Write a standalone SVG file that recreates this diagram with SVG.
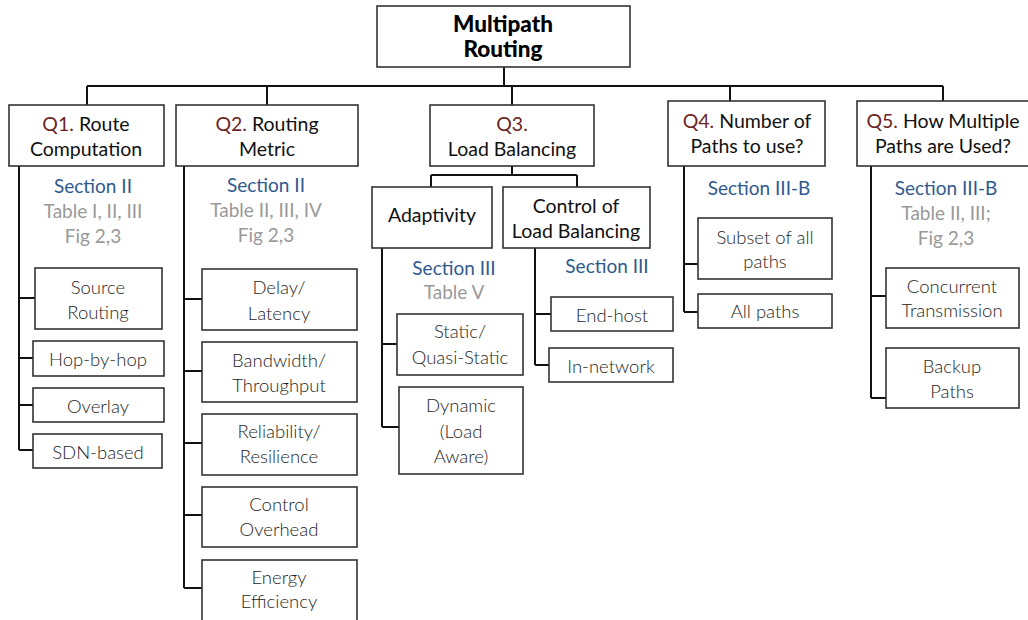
<svg xmlns="http://www.w3.org/2000/svg" width="1028" height="620" viewBox="0 0 1028 620">
<style>
text{font-family:Lato,"Open Sans","Liberation Sans",sans-serif;text-anchor:middle}
.box{fill:#fff;stroke:#333;stroke-width:1.6}
.q{font-size:19.5px;fill:#111}
.qn{fill:#6b2525}
.sub{font-size:18.5px;fill:#1e1e1e;font-weight:300}
.sec{font-size:19px;fill:#2f5a8e}
.tab{font-size:19px;fill:#999}
.root{font-size:22.5px;font-weight:900;fill:#000}
.c{fill:none;stroke:#111;stroke-width:2}
</style>
<g id="connectors" class="c">
<path d="M504,67V86M87,86H943M87,86V105M267,86V105M512,86V105M730,86V101M943,86V101"/>
<path d="M19,166V450M19,298H35M19,358H33M19,405H33M19,450H33"/>
<path d="M184,166V588M184,299H202M184,371H202M184,443H202M184,515H202M184,588H202"/>
<path d="M512,166V175M431,175H577M431,175V187M577,175V187"/>
<path d="M382,248V427M382,344H397M382,427H399"/>
<path d="M535,248V365M535,314H551M535,365H549"/>
<path d="M684,166V312M684,264H698M684,312H698"/>
<path d="M871,166V398M871,296H886M871,398H886"/>
</g>
<g id="root"><rect class="box" x="377" y="6" width="253" height="61"/><text class="root" x="503" y="32">Multipath</text><text class="root" x="503" y="57">Routing</text></g>
<g id="q1"><rect class="box" x="9" y="105" width="155" height="61"/><text class="q" x="86" y="131"><tspan class="qn">Q1.</tspan> Route</text><text class="q" x="86" y="156">Computation</text>
<text class="sec" x="93" y="193">Section II</text><text class="tab" x="93" y="218">Table I, II, III</text><text class="tab" x="93" y="243">Fig 2,3</text></g>
<g id="q2"><rect class="box" x="176" y="105" width="182" height="61"/><text class="q" x="267" y="131"><tspan class="qn">Q2.</tspan> Routing</text><text class="q" x="267" y="156">Metric</text>
<text class="sec" x="266" y="192">Section II</text><text class="tab" x="266" y="217">Table II, III, IV</text><text class="tab" x="266" y="242">Fig 2,3</text></g>
<g id="q3"><rect class="box" x="430" y="105" width="164" height="61"/><text class="q" x="512" y="131"><tspan class="qn">Q3.</tspan></text><text class="q" x="512" y="156">Load Balancing</text></g>
<g id="q4"><rect class="box" x="668" y="101" width="157" height="65"/><text class="q" x="747" y="128"><tspan class="qn">Q4.</tspan> Number of</text><text class="q" x="747" y="153">Paths to use?</text>
<text class="sec" x="759" y="195">Section III-B</text></g>
<g id="q5"><rect class="box" x="857" y="101" width="180" height="65"/><text class="q" x="943" y="128"><tspan class="qn">Q5.</tspan> How Multiple</text><text class="q" x="943" y="153">Paths are Used?</text>
<text class="sec" x="946" y="195">Section III-B</text><text class="tab" x="946" y="220">Table II, III;</text><text class="tab" x="946" y="245">Fig 2,3</text></g>
<g id="adaptivity"><rect class="box" x="372" y="187" width="120" height="61"/><text class="q" x="432" y="222">Adaptivity</text>
<text class="sec" x="454" y="275">Section III</text><text class="tab" x="454" y="299">Table V</text></g>
<g id="control"><rect class="box" x="503" y="187" width="147" height="61"/><text class="q" x="576" y="213">Control of</text><text class="q" x="576" y="238">Load Balancing</text>
<text class="sec" x="607" y="273">Section III</text></g>
<g id="source"><rect class="box" x="35" y="268" width="127" height="61"/><text class="sub" x="98" y="294">Source</text><text class="sub" x="98" y="319">Routing</text></g>
<g id="hop"><rect class="box" x="33" y="341" width="131" height="35"/><text class="sub" x="98" y="366">Hop-by-hop</text></g>
<g id="overlay"><rect class="box" x="33" y="388" width="131" height="34"/><text class="sub" x="98" y="413">Overlay</text></g>
<g id="sdn"><rect class="box" x="33" y="434" width="129" height="34"/><text class="sub" x="98" y="459">SDN-based</text></g>
<g id="delay"><rect class="box" x="202" y="269" width="155" height="61"/><text class="sub" x="279" y="294">Delay/</text><text class="sub" x="279" y="320">Latency</text></g>
<g id="bandwidth"><rect class="box" x="202" y="342" width="155" height="60"/><text class="sub" x="279" y="367">Bandwidth/</text><text class="sub" x="279" y="392">Throughput</text></g>
<g id="reliability"><rect class="box" x="202" y="414" width="155" height="61"/><text class="sub" x="279" y="438">Reliability/</text><text class="sub" x="279" y="463">Resilience</text></g>
<g id="overhead"><rect class="box" x="202" y="487" width="155" height="60"/><text class="sub" x="279" y="511">Control</text><text class="sub" x="279" y="536">Overhead</text></g>
<g id="energy"><rect class="box" x="202" y="560" width="155" height="70"/><text class="sub" x="279" y="584">Energy</text><text class="sub" x="279" y="608">Efficiency</text></g>
<g id="static"><rect class="box" x="397" y="314" width="126" height="61"/><text class="sub" x="460" y="338">Static/</text><text class="sub" x="460" y="364">Quasi-Static</text></g>
<g id="dynamic"><rect class="box" x="399" y="387" width="124" height="87"/><text class="sub" x="461" y="412">Dynamic</text><text class="sub" x="461" y="438">(Load</text><text class="sub" x="461" y="463">Aware)</text></g>
<g id="endhost"><rect class="box" x="551" y="297" width="122" height="34"/><text class="sub" x="612" y="322">End-host</text></g>
<g id="innetwork"><rect class="box" x="549" y="348" width="124" height="34"/><text class="sub" x="611" y="373">In-network</text></g>
<g id="subset"><rect class="box" x="698" y="218" width="134" height="61"/><text class="sub" x="765" y="244">Subset of all</text><text class="sub" x="765" y="268">paths</text></g>
<g id="allpaths"><rect class="box" x="698" y="294" width="134" height="34"/><text class="sub" x="765" y="318">All paths</text></g>
<g id="concurrent"><rect class="box" x="886" y="268" width="133" height="60"/><text class="sub" x="952" y="293">Concurrent</text><text class="sub" x="952" y="317">Transmission</text></g>
<g id="backup"><rect class="box" x="886" y="348" width="133" height="60"/><text class="sub" x="952" y="373">Backup</text><text class="sub" x="952" y="398">Paths</text></g>
</svg>
